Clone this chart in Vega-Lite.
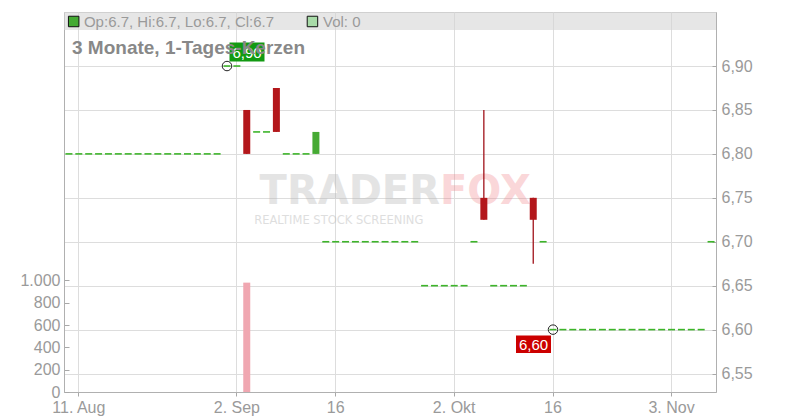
{
  "$schema": "https://vega.github.io/schema/vega-lite/v6.json",
  "width": 652,
  "height": 380,
  "autosize": {"type": "none"},
  "padding": {"left": 64, "top": 12, "right": 84, "bottom": 28},
  "config": {
    "view": {"stroke": "#c8c8c8"},
    "axis": {"labelFont": "Liberation Sans", "labelFontSize": 16, "labelColor": "#9a9a9a", "domainColor": "#b0b0b0", "tickColor": "#a8a8a8", "gridColor": "#dddddd"},
    "text": {"font": "Liberation Sans"}
  },
  "datasets": {
    "ohlc": [
      {"d": "2025-08-08", "o": 6.8, "h": 6.8, "l": 6.8, "c": 6.8, "v": 0},
      {"d": "2025-08-11", "o": 6.8, "h": 6.8, "l": 6.8, "c": 6.8, "v": 0},
      {"d": "2025-08-12", "o": 6.8, "h": 6.8, "l": 6.8, "c": 6.8, "v": 0},
      {"d": "2025-08-13", "o": 6.8, "h": 6.8, "l": 6.8, "c": 6.8, "v": 0},
      {"d": "2025-08-14", "o": 6.8, "h": 6.8, "l": 6.8, "c": 6.8, "v": 0},
      {"d": "2025-08-15", "o": 6.8, "h": 6.8, "l": 6.8, "c": 6.8, "v": 0},
      {"d": "2025-08-18", "o": 6.8, "h": 6.8, "l": 6.8, "c": 6.8, "v": 0},
      {"d": "2025-08-19", "o": 6.8, "h": 6.8, "l": 6.8, "c": 6.8, "v": 0},
      {"d": "2025-08-20", "o": 6.8, "h": 6.8, "l": 6.8, "c": 6.8, "v": 0},
      {"d": "2025-08-21", "o": 6.8, "h": 6.8, "l": 6.8, "c": 6.8, "v": 0},
      {"d": "2025-08-22", "o": 6.8, "h": 6.8, "l": 6.8, "c": 6.8, "v": 0},
      {"d": "2025-08-25", "o": 6.8, "h": 6.8, "l": 6.8, "c": 6.8, "v": 0},
      {"d": "2025-08-26", "o": 6.8, "h": 6.8, "l": 6.8, "c": 6.8, "v": 0},
      {"d": "2025-08-27", "o": 6.8, "h": 6.8, "l": 6.8, "c": 6.8, "v": 0},
      {"d": "2025-08-28", "o": 6.8, "h": 6.8, "l": 6.8, "c": 6.8, "v": 0},
      {"d": "2025-08-29", "o": 6.8, "h": 6.8, "l": 6.8, "c": 6.8, "v": 0},
      {"d": "2025-09-01", "o": 6.9, "h": 6.9, "l": 6.9, "c": 6.9, "v": 0},
      {"d": "2025-09-02", "o": 6.9, "h": 6.9, "l": 6.9, "c": 6.9, "v": 0},
      {"d": "2025-09-03", "o": 6.85, "h": 6.85, "l": 6.8, "c": 6.8, "v": 980},
      {"d": "2025-09-04", "o": 6.825, "h": 6.825, "l": 6.825, "c": 6.825, "v": 0},
      {"d": "2025-09-05", "o": 6.825, "h": 6.825, "l": 6.825, "c": 6.825, "v": 0},
      {"d": "2025-09-08", "o": 6.875, "h": 6.875, "l": 6.825, "c": 6.825, "v": 0},
      {"d": "2025-09-09", "o": 6.8, "h": 6.8, "l": 6.8, "c": 6.8, "v": 0},
      {"d": "2025-09-10", "o": 6.8, "h": 6.8, "l": 6.8, "c": 6.8, "v": 0},
      {"d": "2025-09-11", "o": 6.8, "h": 6.8, "l": 6.8, "c": 6.8, "v": 0},
      {"d": "2025-09-12", "o": 6.8, "h": 6.825, "l": 6.8, "c": 6.825, "v": 0},
      {"d": "2025-09-15", "o": 6.7, "h": 6.7, "l": 6.7, "c": 6.7, "v": 0},
      {"d": "2025-09-16", "o": 6.7, "h": 6.7, "l": 6.7, "c": 6.7, "v": 0},
      {"d": "2025-09-17", "o": 6.7, "h": 6.7, "l": 6.7, "c": 6.7, "v": 0},
      {"d": "2025-09-18", "o": 6.7, "h": 6.7, "l": 6.7, "c": 6.7, "v": 0},
      {"d": "2025-09-19", "o": 6.7, "h": 6.7, "l": 6.7, "c": 6.7, "v": 0},
      {"d": "2025-09-22", "o": 6.7, "h": 6.7, "l": 6.7, "c": 6.7, "v": 0},
      {"d": "2025-09-23", "o": 6.7, "h": 6.7, "l": 6.7, "c": 6.7, "v": 0},
      {"d": "2025-09-24", "o": 6.7, "h": 6.7, "l": 6.7, "c": 6.7, "v": 0},
      {"d": "2025-09-25", "o": 6.7, "h": 6.7, "l": 6.7, "c": 6.7, "v": 0},
      {"d": "2025-09-26", "o": 6.7, "h": 6.7, "l": 6.7, "c": 6.7, "v": 0},
      {"d": "2025-09-29", "o": 6.65, "h": 6.65, "l": 6.65, "c": 6.65, "v": 0},
      {"d": "2025-09-30", "o": 6.65, "h": 6.65, "l": 6.65, "c": 6.65, "v": 0},
      {"d": "2025-10-01", "o": 6.65, "h": 6.65, "l": 6.65, "c": 6.65, "v": 0},
      {"d": "2025-10-02", "o": 6.65, "h": 6.65, "l": 6.65, "c": 6.65, "v": 0},
      {"d": "2025-10-03", "o": 6.65, "h": 6.65, "l": 6.65, "c": 6.65, "v": 0},
      {"d": "2025-10-06", "o": 6.7, "h": 6.7, "l": 6.7, "c": 6.7, "v": 0},
      {"d": "2025-10-07", "o": 6.75, "h": 6.85, "l": 6.725, "c": 6.725, "v": 0},
      {"d": "2025-10-08", "o": 6.65, "h": 6.65, "l": 6.65, "c": 6.65, "v": 0},
      {"d": "2025-10-09", "o": 6.65, "h": 6.65, "l": 6.65, "c": 6.65, "v": 0},
      {"d": "2025-10-10", "o": 6.65, "h": 6.65, "l": 6.65, "c": 6.65, "v": 0},
      {"d": "2025-10-13", "o": 6.65, "h": 6.65, "l": 6.65, "c": 6.65, "v": 0},
      {"d": "2025-10-14", "o": 6.75, "h": 6.75, "l": 6.675, "c": 6.725, "v": 0},
      {"d": "2025-10-15", "o": 6.7, "h": 6.7, "l": 6.7, "c": 6.7, "v": 0},
      {"d": "2025-10-16", "o": 6.6, "h": 6.6, "l": 6.6, "c": 6.6, "v": 0},
      {"d": "2025-10-17", "o": 6.6, "h": 6.6, "l": 6.6, "c": 6.6, "v": 0},
      {"d": "2025-10-20", "o": 6.6, "h": 6.6, "l": 6.6, "c": 6.6, "v": 0},
      {"d": "2025-10-21", "o": 6.6, "h": 6.6, "l": 6.6, "c": 6.6, "v": 0},
      {"d": "2025-10-22", "o": 6.6, "h": 6.6, "l": 6.6, "c": 6.6, "v": 0},
      {"d": "2025-10-23", "o": 6.6, "h": 6.6, "l": 6.6, "c": 6.6, "v": 0},
      {"d": "2025-10-24", "o": 6.6, "h": 6.6, "l": 6.6, "c": 6.6, "v": 0},
      {"d": "2025-10-27", "o": 6.6, "h": 6.6, "l": 6.6, "c": 6.6, "v": 0},
      {"d": "2025-10-28", "o": 6.6, "h": 6.6, "l": 6.6, "c": 6.6, "v": 0},
      {"d": "2025-10-29", "o": 6.6, "h": 6.6, "l": 6.6, "c": 6.6, "v": 0},
      {"d": "2025-10-30", "o": 6.6, "h": 6.6, "l": 6.6, "c": 6.6, "v": 0},
      {"d": "2025-10-31", "o": 6.6, "h": 6.6, "l": 6.6, "c": 6.6, "v": 0},
      {"d": "2025-11-03", "o": 6.6, "h": 6.6, "l": 6.6, "c": 6.6, "v": 0},
      {"d": "2025-11-04", "o": 6.6, "h": 6.6, "l": 6.6, "c": 6.6, "v": 0},
      {"d": "2025-11-05", "o": 6.6, "h": 6.6, "l": 6.6, "c": 6.6, "v": 0},
      {"d": "2025-11-06", "o": 6.6, "h": 6.6, "l": 6.6, "c": 6.6, "v": 0},
      {"d": "2025-11-07", "o": 6.7, "h": 6.7, "l": 6.7, "c": 6.7, "v": 0}
    ]
  },
  "encoding": {
    "x": {
      "field": "d", "type": "ordinal", "sort": "ascending",
      "scale": {"type": "band", "paddingInner": 0, "paddingOuter": 0},
      "axis": {
        "values": ["2025-08-11", "2025-09-02", "2025-09-16", "2025-10-02", "2025-10-16", "2025-11-03"],
        "labelExpr": "datum.value == '2025-08-11' ? '11. Aug' : datum.value == '2025-09-02' ? '2. Sep' : datum.value == '2025-10-02' ? '2. Okt' : datum.value == '2025-11-03' ? '3. Nov' : '16'",
        "labelFontWeight": {"condition": {"test": "indexof(datum.label, '.') > 0", "value": "bold"}, "value": "normal"},
        "labelAngle": 0, "bandPosition": 0.5, "grid": true, "tickSize": 4, "labelPadding": 3, "title": null
      }
    }
  },
  "layer": [
    {
      "data": {"name": "ohlc"},
      "mark": {"type": "bar", "width": 7, "color": "#f0a7b1"},
      "encoding": {
        "y": {
          "field": "v", "type": "quantitative",
          "scale": {"domain": [0, 3405], "nice": false},
          "axis": {"orient": "left", "values": [0, 200, 400, 600, 800, 1000], "grid": false, "tickSize": -5, "labelPadding": 9, "labelExpr": "replace(format(datum.value, ',d'), ',', '.')", "title": null}
        }
      }
    },
    {
      "layer": [
        {
          "data": {"values": [{"d": "2025-08-08", "top": 6.9615, "bot": 6.941}, {"d": "2025-11-07", "top": 6.9615, "bot": 6.941}]},
          "mark": {"type": "rect", "color": "#d6d6d6", "opacity": 0.6},
          "encoding": {
            "x": {"aggregate": "min", "field": "d", "type": "ordinal", "bandPosition": 0},
            "x2": {"aggregate": "max", "field": "d", "bandPosition": 1},
            "y": {
              "field": "top", "type": "quantitative",
              "scale": {"domain": [6.529, 6.9615], "nice": false, "zero": false},
              "axis": {"orient": "right", "values": [6.55, 6.6, 6.65, 6.7, 6.75, 6.8, 6.85, 6.9], "grid": true, "tickSize": -4, "labelPadding": 9, "labelExpr": "replace(format(datum.value, '.2f'), '.', ',')", "title": null}
            },
            "y2": {"field": "bot"}
          }
        },
        {
          "data": {"values": [{"d": "2025-10-01", "p": 6.7428, "w1": "TRADER", "w2": "FOX"}]},
          "layer": [
            {"mark": {"type": "text", "font": "DejaVu Sans", "fontWeight": "bold", "fontSize": 40, "align": "right", "baseline": "alphabetic", "color": "#b0b0b0", "opacity": 0.33},
             "encoding": {"text": {"field": "w1"}}},
            {"mark": {"type": "text", "font": "DejaVu Sans", "fontWeight": "bold", "fontSize": 40, "align": "left", "baseline": "alphabetic", "color": "#f07c84", "opacity": 0.3},
             "encoding": {"text": {"field": "w2"}}}
          ],
          "encoding": {
            "x": {"field": "d", "type": "ordinal", "bandPosition": 0.06},
            "y": {"field": "p", "type": "quantitative", "scale": {"domain": [6.529, 6.9615], "nice": false, "zero": false}}
          }
        },
        {
          "data": {"values": [{"d": "2025-09-16", "p": 6.7205, "t": "REALTIME STOCK SCREENING"}]},
          "mark": {"type": "text", "font": "DejaVu Sans", "fontSize": 11.5, "align": "center", "baseline": "alphabetic", "color": "#b8b8b8", "opacity": 0.45},
          "encoding": {
            "x": {"field": "d", "type": "ordinal", "bandPosition": 0.81},
            "y": {"field": "p", "type": "quantitative", "scale": {"domain": [6.529, 6.9615], "nice": false, "zero": false}},
            "text": {"field": "t"}
          }
        },
        {
          "data": {"name": "ohlc"},
          "transform": [{"filter": "datum.o == datum.c"}],
          "mark": {"type": "tick", "orient": "horizontal", "thickness": 1.6, "size": 7, "color": "#3db42a", "opacity": 1},
          "encoding": {
            "y": {"field": "c", "type": "quantitative", "scale": {"domain": [6.529, 6.9615], "nice": false, "zero": false}}
          }
        },
        {
          "data": {"name": "ohlc"},
          "transform": [{"filter": "datum.h != datum.l"}],
          "mark": {"type": "rule", "strokeWidth": 1.3, "opacity": 1},
          "encoding": {
            "y": {"field": "l", "type": "quantitative", "scale": {"domain": [6.529, 6.9615], "nice": false, "zero": false}},
            "y2": {"field": "h"},
            "color": {"condition": {"test": "datum.c < datum.o", "value": "#a0121a"}, "value": "#46aa34"}
          }
        },
        {
          "data": {"name": "ohlc"},
          "transform": [{"filter": "datum.o != datum.c"}],
          "mark": {"type": "bar", "width": 7, "opacity": 1},
          "encoding": {
            "y": {"field": "o", "type": "quantitative", "scale": {"domain": [6.529, 6.9615], "nice": false, "zero": false}},
            "y2": {"field": "c"},
            "color": {"condition": {"test": "datum.c < datum.o", "value": "#b3171b"}, "value": "#46aa34"}
          }
        },
        {
          "data": {"values": [{"d": "2025-09-01", "p": 6.9, "t": "6,90"}]},
          "layer": [
            {"mark": {"type": "point", "shape": "M-1,-0.54H1V0.54H-1Z", "size": 1225, "filled": true, "opacity": 1, "color": "#129a12", "xOffset": 20, "yOffset": -14}},
            {"mark": {"type": "text", "fontSize": 15, "color": "#ffffff", "align": "center", "baseline": "middle", "xOffset": 20, "yOffset": -13}, "encoding": {"text": {"field": "t"}}},
            {"mark": {"type": "point", "shape": "circle", "size": 90, "filled": false, "opacity": 1, "stroke": "#222222", "strokeWidth": 1}}
          ],
          "encoding": {
            "x": {"field": "d", "type": "ordinal"},
            "y": {"field": "p", "type": "quantitative", "scale": {"domain": [6.529, 6.9615], "nice": false, "zero": false}}
          }
        },
        {
          "data": {"values": [{"d": "2025-10-16", "p": 6.6, "t": "6,60"}]},
          "layer": [
            {"mark": {"type": "point", "shape": "M-1,-0.5H1V0.5H-1Z", "size": 1225, "filled": true, "opacity": 1, "color": "#cc0000", "xOffset": -19.5, "yOffset": 14.7}},
            {"mark": {"type": "text", "fontSize": 15, "color": "#ffffff", "align": "center", "baseline": "middle", "xOffset": -19.5, "yOffset": 15.5}, "encoding": {"text": {"field": "t"}}},
            {"mark": {"type": "point", "shape": "circle", "size": 90, "filled": false, "opacity": 1, "stroke": "#222222", "strokeWidth": 1}}
          ],
          "encoding": {
            "x": {"field": "d", "type": "ordinal"},
            "y": {"field": "p", "type": "quantitative", "scale": {"domain": [6.529, 6.9615], "nice": false, "zero": false}}
          }
        },
        {
          "data": {"values": [{"d": "2025-08-08", "p": 6.9137, "t": "3 Monate, 1-Tages-Kerzen"}]},
          "mark": {"type": "text", "font": "Liberation Sans", "fontSize": 19, "fontWeight": "bold", "align": "left", "baseline": "alphabetic", "color": "#888888"},
          "encoding": {
            "x": {"field": "d", "type": "ordinal", "bandPosition": 0.81},
            "y": {"field": "p", "type": "quantitative", "scale": {"domain": [6.529, 6.9615], "nice": false, "zero": false}},
            "text": {"field": "t"}
          }
        },
        {
          "data": {"values": [{"d": "2025-08-08", "p": 6.9507}]},
          "mark": {"type": "point", "shape": "square", "size": 110, "filled": true, "opacity": 1, "fill": "#44aa33", "stroke": "#111111", "strokeWidth": 1},
          "encoding": {
            "x": {"field": "d", "type": "ordinal", "bandPosition": 0.98},
            "y": {"field": "p", "type": "quantitative", "scale": {"domain": [6.529, 6.9615], "nice": false, "zero": false}}
          }
        },
        {
          "data": {"values": [{"d": "2025-09-12", "p": 6.9507}]},
          "mark": {"type": "point", "shape": "square", "size": 110, "filled": true, "opacity": 1, "fill": "#a8dba8", "stroke": "#111111", "strokeWidth": 1},
          "encoding": {
            "x": {"field": "d", "type": "ordinal", "bandPosition": 0.15},
            "y": {"field": "p", "type": "quantitative", "scale": {"domain": [6.529, 6.9615], "nice": false, "zero": false}}
          }
        },
        {
          "data": {"values": [{"d": "2025-08-12", "p": 6.9444, "t": "Op:6.7, Hi:6.7, Lo:6.7, Cl:6.7"}]},
          "mark": {"type": "text", "font": "Liberation Sans", "fontSize": 15, "align": "left", "baseline": "alphabetic", "color": "#9a9a9a"},
          "encoding": {
            "x": {"field": "d", "type": "ordinal", "bandPosition": 0.02},
            "y": {"field": "p", "type": "quantitative", "scale": {"domain": [6.529, 6.9615], "nice": false, "zero": false}},
            "text": {"field": "t"}
          }
        },
        {
          "data": {"values": [{"d": "2025-09-15", "p": 6.9444, "t": "Vol: 0"}]},
          "mark": {"type": "text", "font": "Liberation Sans", "fontSize": 15, "align": "left", "baseline": "alphabetic", "color": "#9a9a9a"},
          "encoding": {
            "x": {"field": "d", "type": "ordinal", "bandPosition": 0.22},
            "y": {"field": "p", "type": "quantitative", "scale": {"domain": [6.529, 6.9615], "nice": false, "zero": false}},
            "text": {"field": "t"}
          }
        }
      ]
    }
  ],
  "resolve": {"scale": {"y": "independent"}, "axis": {"y": "independent"}}
}
